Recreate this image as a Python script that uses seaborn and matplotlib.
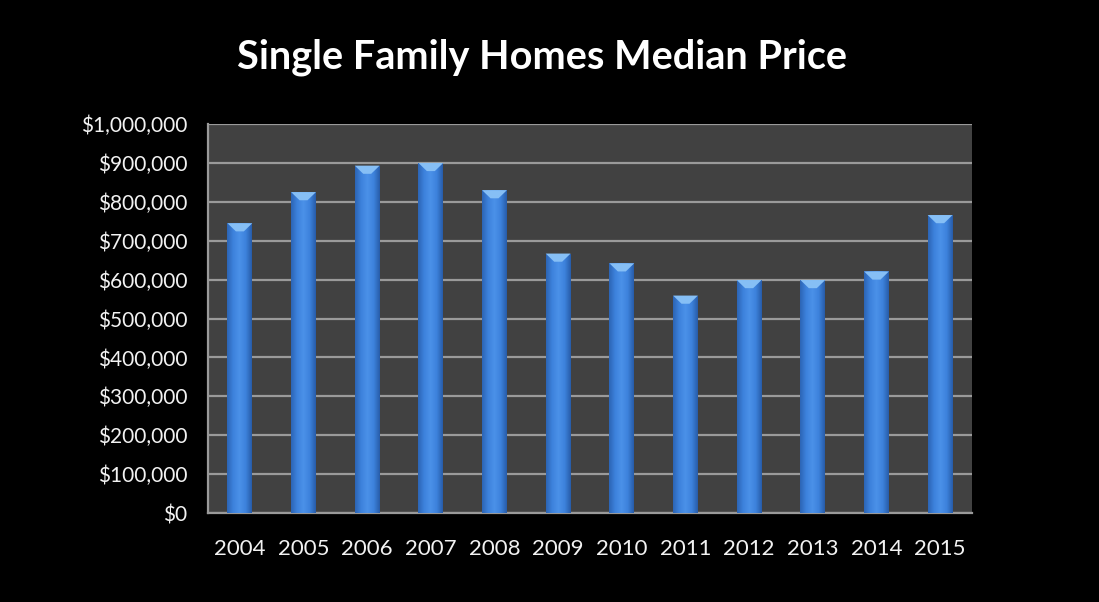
import numpy as np
import pandas as pd
import matplotlib
matplotlib.use("Agg")
import matplotlib.pyplot as plt
from matplotlib.colors import LinearSegmentedColormap
from matplotlib.patches import Polygon
from matplotlib.ticker import FuncFormatter, FixedLocator
import seaborn as sns

# Median price of single family homes by year
years = ["2004", "2005", "2006", "2007", "2008", "2009",
         "2010", "2011", "2012", "2013", "2014", "2015"]
prices = [745000, 825000, 893000, 900000, 830000, 667000,
          642000, 559000, 599000, 599000, 621000, 766000]
y_ticks = list(range(0, 1_000_001, 100_000))

df = pd.DataFrame({"year": years, "price": prices})

sns.set_theme(style="dark")
plt.rcParams["font.family"] = ["Lato", "DejaVu Sans"]

fig = plt.figure(figsize=(10.99, 6.02), dpi=100, facecolor="black")
ax = fig.add_axes([0.1893, 0.1478, 0.6951, 0.6462])
ax.set_facecolor("#414141")

sns.barplot(data=df, x="year", y="price", color="#3b7dd8", width=0.39,
            ax=ax, zorder=3, saturation=1)

# Cylinder-like shading on each bar, plus a lighter bevel on top
shade = LinearSegmentedColormap.from_list(
    "shade", ["#2c64b4", "#3d82dc", "#4b91e8", "#3d82dc", "#275ca8"])
grad = np.linspace(0, 1, 256).reshape(1, -1)
for patch in ax.patches:
    x0, w, h = patch.get_x(), patch.get_width(), patch.get_height()
    im = ax.imshow(grad, extent=(x0, x0 + w, 0, h), cmap=shade,
                   aspect="auto", origin="lower", zorder=4)
    im.set_clip_path(patch)
    d = 21000
    inset = w * 0.34
    bevel = Polygon([(x0, h), (x0 + w, h), (x0 + w - inset, h - d),
                     (x0 + inset, h - d)], closed=True,
                    facecolor="#86bff5", edgecolor="none", zorder=5)
    ax.add_patch(bevel)
    patch.set_edgecolor("none")
ax.set_xlim(-0.5, len(years) - 0.5)
ax.set_ylim(0, 1_000_000)

# Grid and axes styling
ax.yaxis.set_major_locator(FixedLocator(y_ticks))
ax.yaxis.set_major_formatter(FuncFormatter(lambda v, _: f"${v:,.0f}"))
ax.grid(axis="y", color="#9a9a9a", linewidth=1.6, zorder=1)
ax.grid(axis="x", visible=False)
ax.set_axisbelow(True)

for side in ["top", "right"]:
    ax.spines[side].set_visible(False)
for side in ["left", "bottom"]:
    ax.spines[side].set_visible(True)
    ax.spines[side].set_color("#9a9a9a")
    ax.spines[side].set_linewidth(1.6)

ax.xaxis.set_minor_locator(FixedLocator(np.arange(-0.5, len(years), 1.0)))
ax.tick_params(axis="x", which="major", length=0, pad=19,
               labelsize=16, labelcolor="#f2f2f2")
ax.tick_params(axis="x", which="minor", length=6, width=1.6,
               color="#9a9a9a", direction="out")
ax.tick_params(axis="y", which="major", length=6, width=1.6,
               color="#9a9a9a", direction="out", pad=9,
               labelsize=15, labelcolor="#f2f2f2")
ax.set_xlabel("")
ax.set_ylabel("")

fig.text(0.493, 0.905, "Single Family Homes Median Price", ha="center",
         va="center", color="white", fontsize=28.5, fontweight="bold")

fig.savefig("out.png", dpi=100, facecolor="black")
